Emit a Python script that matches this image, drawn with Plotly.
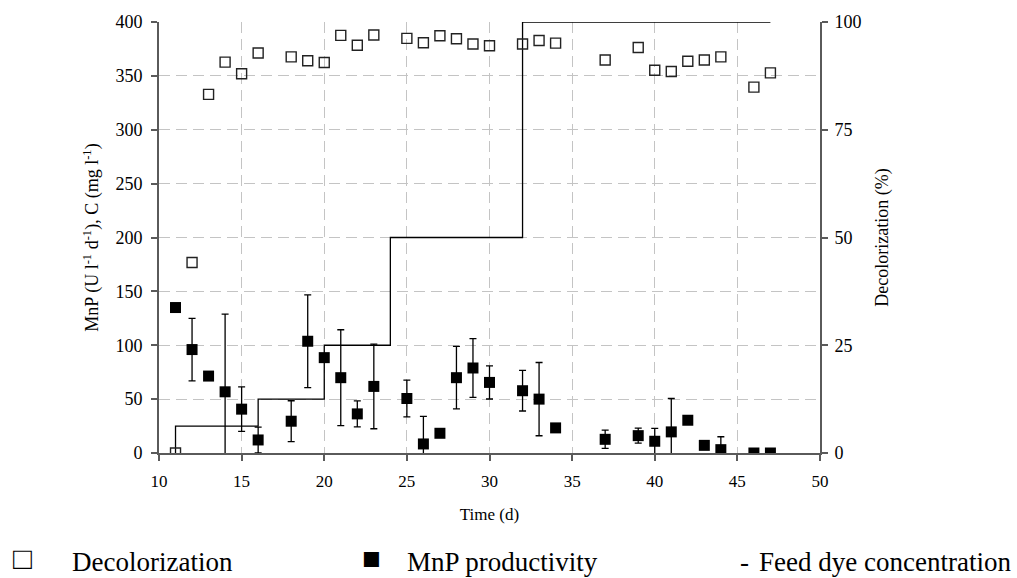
import plotly.graph_objects as go

# ---- data ----
decol_days = [11, 12, 13, 14, 15, 16, 18, 19, 20, 21, 22, 23, 25, 26, 27, 28, 29, 30,
              32, 33, 34, 37, 39, 40, 41, 42, 43, 44, 46, 47]
decol_pct = [0, 44.2, 83.2, 90.7, 88.0, 92.8, 91.9, 91.0, 90.6, 96.9, 94.6, 97.0,
             96.2, 95.2, 96.8, 96.1, 94.9, 94.5, 94.9, 95.7, 95.1, 91.2, 94.1, 88.8,
             88.5, 90.9, 91.2, 91.9, 84.9, 88.2]

mnp_days = [11, 12, 13, 14, 15, 16, 18, 19, 20, 21, 22, 23, 25, 26, 27, 28, 29, 30,
            32, 33, 34, 37, 39, 40, 41, 42, 43, 44, 46, 47]
mnp_prod = [135, 96, 71.4, 56.8, 40.7, 12.1, 29.5, 103.7, 88.5, 69.9, 36.3, 61.8,
            50.6, 8.4, 18.3, 69.9, 78.9, 65.5, 57.8, 50.0, 23.3, 12.7, 16.1, 10.9,
            19.6, 30.4, 7.1, 3.1, 0, 0]
mnp_err = [0, 29, 0, 72, 20.7, 12, 19, 43, 0, 44.5, 12, 39.3,
           17, 25.5, 0, 29, 27.3, 15.4, 18.8, 34, 0, 8.5, 7, 12,
           31, 0, 0, 12, 0, 0]

feed_days = [11, 11, 16, 20, 24, 32, 47]
feed_conc = [0, 25, 50, 100, 200, 400, 400]

x_ticks = [10, 15, 20, 25, 30, 35, 40, 45, 50]
y_ticks = [0, 50, 100, 150, 200, 250, 300, 350, 400]
y2_ticks = [0, 25, 50, 75, 100]

FONT = "Liberation Serif, Times New Roman, serif"
AX = "#5a5a5a"
GRID = "#c4c4c4"

fig = go.Figure()

fig.add_trace(go.Scatter(
    x=feed_days, y=feed_conc, mode="lines", line_shape="hv",
    line=dict(color="black", width=1.3), name="Feed dye concentration",
    showlegend=False))

fig.add_trace(go.Scatter(
    x=mnp_days, y=mnp_prod, mode="markers", name="MnP productivity",
    marker=dict(symbol="square", size=11, color="black"),
    error_y=dict(type="data", array=mnp_err, symmetric=True,
                 color="black", thickness=1.3, width=3.5),
    showlegend=False))

fig.add_trace(go.Scatter(
    x=decol_days, y=decol_pct, mode="markers", name="Decolorization",
    yaxis="y2",
    marker=dict(symbol="square-open", size=10, color="#222222",
                line=dict(width=1.4, color="#222222")),
    showlegend=False))

fig.update_layout(
    width=1017, height=578,
    margin=dict(l=159, r=197, t=22, b=125, autoexpand=False),
    paper_bgcolor="white", plot_bgcolor="white",
    font=dict(family=FONT, size=17, color="black"),
    xaxis=dict(
        range=[10, 50], tickvals=x_ticks, ticks="outside", ticklen=6,
        tickcolor=AX, tickwidth=1.5, showline=True, linecolor=AX, linewidth=1.8,
        showgrid=True, gridcolor=GRID, griddash="11px,6px", gridwidth=1,
        zeroline=False, ticklabelstandoff=6,
        tickfont=dict(size=17),
        title=dict(text="Time (d)", font=dict(size=17), standoff=18),
    ),
    yaxis=dict(
        range=[0, 400], tickvals=y_ticks, ticks="outside", ticklen=6,
        tickcolor=AX, tickwidth=1.5, showline=True, linecolor=AX, linewidth=1.8,
        showgrid=True, gridcolor=GRID, griddash="11px,6px", gridwidth=1,
        zeroline=False, ticklabelstandoff=5,
        tickfont=dict(size=18),
        title=dict(text="MnP (U l<sup>-1</sup> d<sup>-1</sup>), C (mg l<sup>-1</sup>)",
                   font=dict(size=18), standoff=12),
    ),
    yaxis2=dict(
        range=[0, 100], tickvals=y2_ticks, overlaying="y", side="right",
        ticks="outside", ticklen=6, tickcolor=AX, tickwidth=1.5,
        showline=True, linecolor=AX, linewidth=1.8, showgrid=False,
        zeroline=False, ticklabelstandoff=3, tickfont=dict(size=18),
        title=dict(text="Decolorization (%)", font=dict(size=18), standoff=15),
    ),
)

# caption-style legend under the chart
def px_x(p):
    return (p - 159) / 661.0

def px_y(p):
    return (453 - p) / 431.0

legend_items = [
    ("\u25a1", 22, "center", 31, 558), ("Decolorization", 70, "left", 27, 562),
    ("\u25a0", 371, "center", 31, 558), ("MnP productivity", 405, "left", 27, 562),
    ("-", 744, "center", 27, 562), ("Feed dye concentration", 1013, "right", 27, 562),
]
for txt, xp, anchor, fs, yp in legend_items:
    fig.add_annotation(
        text=txt, x=px_x(xp), y=px_y(yp), xref="paper", yref="paper",
        xanchor=anchor, yanchor="middle", showarrow=False,
        font=dict(family=FONT, size=fs, color="black"))

fig.write_html(
    "out.html",
    config={"displayModeBar": False},
    post_script="document.body.style.margin='0';document.body.style.overflow='hidden';",
)
